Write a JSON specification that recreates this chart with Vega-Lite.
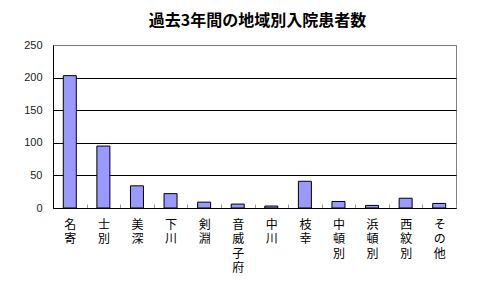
{
  "$schema": "https://vega.github.io/schema/vega-lite/v6.json",
  "width": 403,
  "height": 163,
  "autosize": {"type": "none"},
  "padding": {"left": 53, "top": 45, "right": 32, "bottom": 88},
  "background": "white",
  "title": {
    "text": "過去3年間の地域別入院患者数",
    "font": "Noto Sans CJK JP",
    "fontSize": 16,
    "fontWeight": "bold",
    "color": "black",
    "anchor": "middle",
    "offset": 10,
    "dx": 3
  },
  "data": {
    "values": [
      {"area": "名寄", "count": 203},
      {"area": "士別", "count": 95},
      {"area": "美深", "count": 34},
      {"area": "下川", "count": 22},
      {"area": "剣淵", "count": 9},
      {"area": "音威子府", "count": 6},
      {"area": "中川", "count": 3},
      {"area": "枝幸", "count": 41},
      {"area": "中頓別", "count": 10},
      {"area": "浜頓別", "count": 4},
      {"area": "西紋別", "count": 15},
      {"area": "その他", "count": 7}
    ]
  },
  "mark": {"type": "bar", "fill": "#9999FF", "stroke": "black", "strokeWidth": 1, "size": 13},
  "encoding": {
    "x": {
      "field": "area",
      "type": "nominal",
      "sort": null,
      "scale": {"paddingInner": 0, "paddingOuter": 0},
      "axis": {
        "title": null,
        "labelAngle": 0,
        "labelExpr": "split(datum.label, '')",
        "labelFont": "Noto Sans CJK JP",
        "labelFontSize": 12,
        "labelLineHeight": 14.5,
        "labelBaseline": "top",
        "labelColor": "black",
        "labelPadding": 15,
        "domainColor": "black",
        "tickBand": "extent",
        "tickSize": -4,
        "tickColor": "#999999",
        "grid": false
      }
    },
    "y": {
      "field": "count",
      "type": "quantitative",
      "scale": {"domain": [0, 250]},
      "axis": {
        "title": null,
        "values": [0, 50, 100, 150, 200, 250],
        "ticks": false,
        "labelPadding": 11,
        "labelFont": "Liberation Sans",
        "labelFontSize": 11,
        "labelColor": "#222222",
        "domainColor": "black",
        "grid": true,
        "gridColor": {"condition": {"test": "datum.value === 250", "value": "#808080"}, "value": "black"},
        "gridOpacity": 1
      }
    }
  },
  "config": {
    "view": {"stroke": "#808080", "strokeWidth": 1}
  }
}
